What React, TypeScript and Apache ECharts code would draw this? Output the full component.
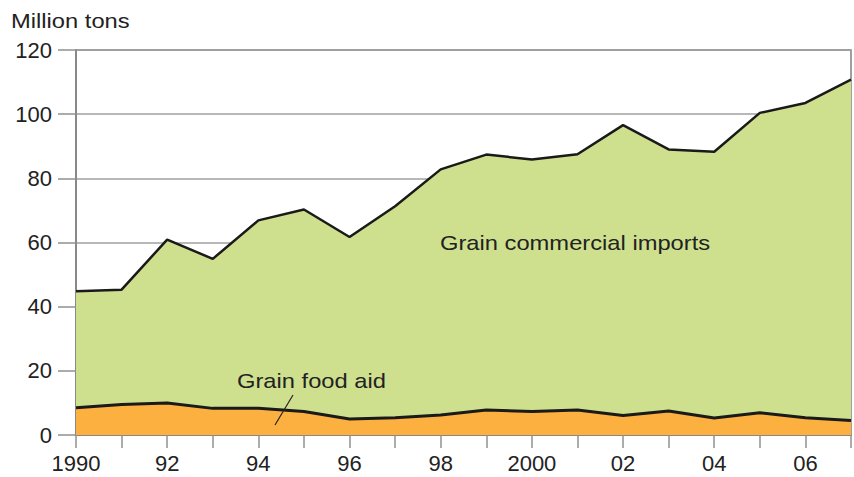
import React, { useEffect, useRef } from "react";
import * as echarts from "echarts";

const years = ["1990", "1991", "1992", "1993", "1994", "1995", "1996", "1997", "1998", "1999", "2000", "2001", "2002", "2003", "2004", "2005", "2006", "2007"];
const foodAid = [8.5, 9.5, 10.0, 8.3, 8.3, 7.3, 5.0, 5.4, 6.2, 7.8, 7.3, 7.8, 6.1, 7.5, 5.3, 6.9, 5.4, 4.5];
const commercialImports = [36.3, 35.8, 50.9, 46.6, 58.6, 63.0, 56.7, 65.9, 76.6, 79.6, 78.6, 79.7, 90.5, 81.5, 83.0, 93.5, 98.1, 106.3];
const yTicks = [0, 20, 40, 60, 80, 100, 120];

const FONT = "Arial, 'Liberation Sans', Helvetica, sans-serif";

export default function App() {
  const ref = useRef<HTMLDivElement>(null);
  useEffect(() => {
    if (!ref.current) return;
    const chart = echarts.init(ref.current, undefined, { renderer: "svg" });
    chart.setOption({
      animation: false,
      backgroundColor: "#ffffff",
      textStyle: { fontFamily: FONT },
      grid: {
        left: 76,
        right: 1,
        top: 50,
        bottom: 42,
        show: true,
        borderColor: "#808080",
        borderWidth: 1.5,
        backgroundColor: "transparent",
      },
      xAxis: {
        type: "category",
        data: years,
        boundaryGap: false,
        axisLine: { show: true, lineStyle: { color: "#808080", width: 1.5 } },
        axisTick: { show: true, interval: 0, length: 13, lineStyle: { color: "#909090", width: 1.5 } },
        splitLine: { show: false },
        axisLabel: {
          interval: 0,
          margin: 17,
          fontSize: 22,
          color: "#222",
          fontFamily: FONT,
          formatter: (v: string) => {
            const n = Number(v);
            if (n % 2 !== 0) return "";
            if (n === 1990 || n === 2000) return v;
            return v.slice(2);
          },
        },
      },
      yAxis: {
        type: "value",
        min: yTicks[0],
        max: yTicks[yTicks.length - 1],
        interval: 20,
        axisLine: { show: true, lineStyle: { color: "#808080", width: 1.5 } },
        axisTick: { show: true, inside: false, length: 18, lineStyle: { color: "#909090", width: 1.5 } },
        splitLine: { show: true, lineStyle: { color: "#a0a0a0", width: 1.5 } },
        axisLabel: { margin: 24, fontSize: 22, color: "#222", fontFamily: FONT },
      },
      series: [
        {
          name: "Grain food aid",
          type: "line",
          stack: "total",
          data: foodAid,
          symbol: "none",
          lineStyle: { color: "#1a1a1a", width: 3 },
          areaStyle: { color: "#fbb040", opacity: 1 },
          z: 3,
        },
        {
          name: "Grain commercial imports",
          type: "line",
          stack: "total",
          data: commercialImports,
          symbol: "none",
          lineStyle: { color: "#1a1a1a", width: 2.5 },
          areaStyle: { color: "#cee08e", opacity: 1 },
          z: 2,
        },
      ],
      graphic: [
        {
          type: "text",
          x: 11,
          y: 10,
          scaleX: 1.13,
          style: { text: "Million tons", fontSize: 21, fill: "#222", fontFamily: FONT },
        },
        {
          type: "text",
          x: 440,
          y: 243,
          scaleX: 1.13,
          style: { text: "Grain commercial imports", fontSize: 21, fill: "#222", fontFamily: FONT, verticalAlign: "middle" },
          z: 10,
        },
        {
          type: "text",
          x: 237,
          y: 381,
          scaleX: 1.13,
          style: { text: "Grain food aid", fontSize: 21, fill: "#222", fontFamily: FONT, verticalAlign: "middle" },
          z: 10,
        },
        {
          type: "line",
          shape: { x1: 293, y1: 395, x2: 275, y2: 425 },
          style: { stroke: "#222", lineWidth: 1.2 },
          z: 10,
        },
      ],
    });
    return () => chart.dispose();
  }, []);
  return <div ref={ref} style={{ width: 854, height: 477, position: "absolute", left: 0, top: 0 }} />;
}
